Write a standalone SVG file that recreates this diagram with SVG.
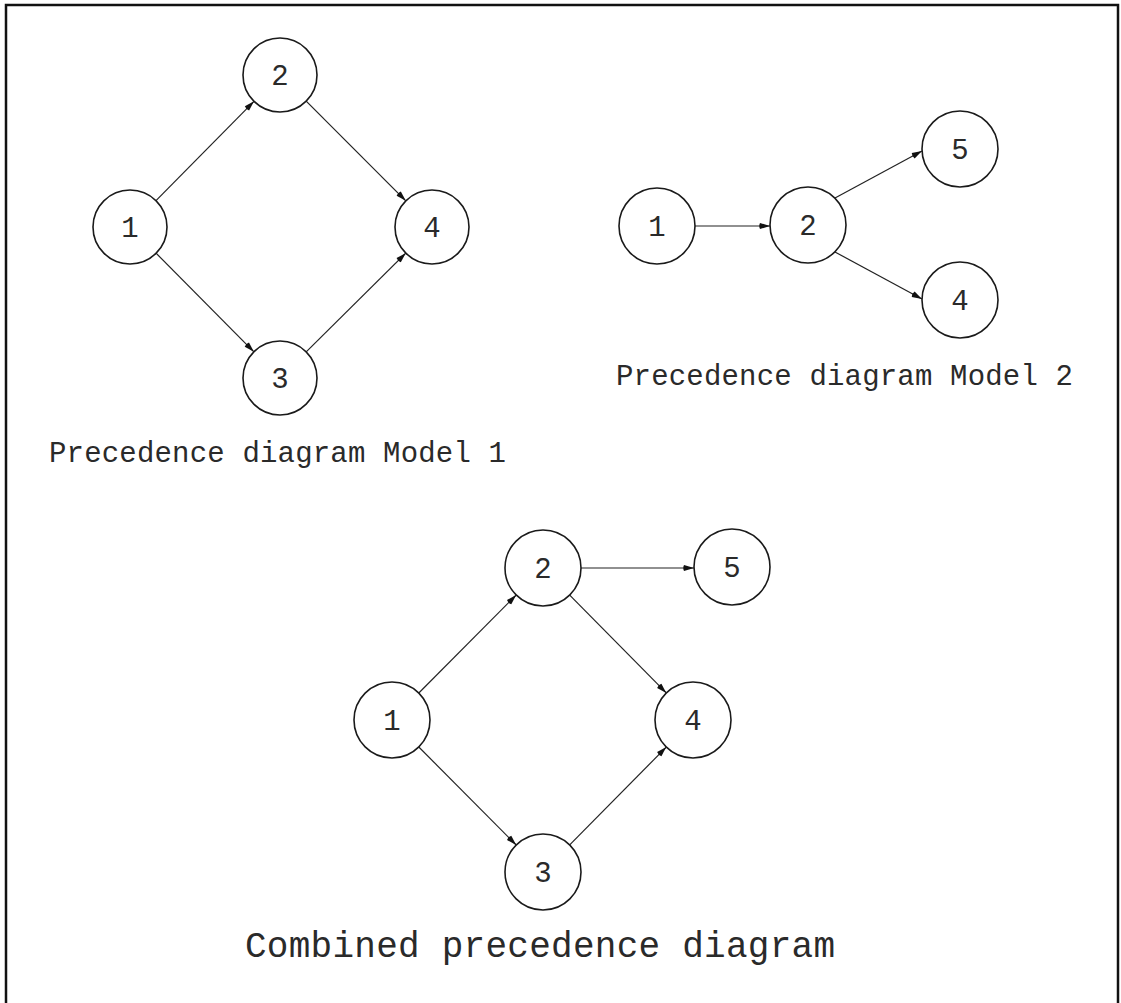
<svg xmlns="http://www.w3.org/2000/svg" width="1121" height="1003" viewBox="0 0 1121 1003">
  <style>
    .node circle { fill: #fff; stroke: #1a1a1a; stroke-width: 1.6; }
    .node text { font-family: "Liberation Mono", "DejaVu Sans Mono", monospace; font-size: 29px; fill: #2a2a2a; text-anchor: middle; }
    .edge { stroke: #222; stroke-width: 1.2; fill: none; marker-end: url(#arrow); }
    .caption { font-family: "Liberation Mono", "DejaVu Sans Mono", monospace; fill: #2a2a2a; }
  </style>
  <defs>
    <!-- blunt filled arrowhead, tip at the end of each connector -->
    <marker id="arrow" markerUnits="userSpaceOnUse" markerWidth="14" markerHeight="10" refX="11" refY="5" orient="auto">
      <path d="M1,2 Q-0.5,5 1,8 L11,5 Z" fill="#111"/>
    </marker>
  </defs>

  <rect width="1121" height="1003" fill="#fff"/>
  <!-- outer frame, open at the bottom edge -->
  <rect x="6" y="5" width="1112" height="1030" fill="none" stroke="#111" stroke-width="2.5"/>

  <g id="connectors">
    <!-- Model 1 -->
    <line class="edge" x1="156" y1="200.7" x2="254" y2="101.3"/>
    <line class="edge" x1="306.2" y1="101.2" x2="405.8" y2="200.8"/>
    <line class="edge" x1="156.1" y1="253.2" x2="253.9" y2="351.8"/>
    <line class="edge" x1="306.2" y1="351.9" x2="405.8" y2="253.1"/>
    <!-- Model 2 -->
    <line class="edge" x1="695" y1="226" x2="770" y2="226"/>
    <line class="edge" x1="835" y1="198" x2="922" y2="151"/>
    <line class="edge" x1="835" y1="252" x2="922" y2="299"/>
    <!-- Combined -->
    <line class="edge" x1="418.8" y1="693" x2="516.2" y2="595"/>
    <line class="edge" x1="569.7" y1="595.1" x2="666.3" y2="692.9"/>
    <line class="edge" x1="418.8" y1="747" x2="516.2" y2="845"/>
    <line class="edge" x1="569.7" y1="844.9" x2="666.3" y2="747.1"/>
    <line class="edge" x1="581" y1="568" x2="694" y2="568"/>
  </g>

  <!-- Model 1 nodes -->
  <g id="m1-n1" class="node"><circle cx="130" cy="227" r="37"/><text x="130" y="237">1</text></g>
  <g id="m1-n2" class="node"><circle cx="280" cy="75" r="37"/><text x="280" y="85">2</text></g>
  <g id="m1-n3" class="node"><circle cx="280" cy="378" r="37"/><text x="280" y="388">3</text></g>
  <g id="m1-n4" class="node"><circle cx="432" cy="227" r="37"/><text x="432" y="237">4</text></g>

  <!-- Model 2 nodes -->
  <g id="m2-n1" class="node"><circle cx="657" cy="226" r="38"/><text x="657" y="236">1</text></g>
  <g id="m2-n2" class="node"><circle cx="808" cy="225" r="38"/><text x="808" y="235">2</text></g>
  <g id="m2-n5" class="node"><circle cx="960" cy="149" r="38"/><text x="960" y="159">5</text></g>
  <g id="m2-n4" class="node"><circle cx="960" cy="300" r="38"/><text x="960" y="310">4</text></g>

  <!-- Combined nodes -->
  <g id="c-n1" class="node"><circle cx="392" cy="720" r="38"/><text x="392" y="730">1</text></g>
  <g id="c-n2" class="node"><circle cx="543" cy="568" r="38"/><text x="543" y="578">2</text></g>
  <g id="c-n5" class="node"><circle cx="732" cy="567" r="38"/><text x="732" y="577">5</text></g>
  <g id="c-n4" class="node"><circle cx="693" cy="720" r="38"/><text x="693" y="730">4</text></g>
  <g id="c-n3" class="node"><circle cx="543" cy="872" r="38"/><text x="543" y="882">3</text></g>

  <!-- captions -->
  <text class="caption" x="49" y="462" font-size="29" textLength="457" lengthAdjust="spacing">Precedence diagram Model 1</text>
  <text class="caption" x="616" y="385" font-size="29" textLength="457" lengthAdjust="spacing">Precedence diagram Model 2</text>
  <text class="caption" x="245" y="957" font-size="36" textLength="590" lengthAdjust="spacing">Combined precedence diagram</text>
</svg>
